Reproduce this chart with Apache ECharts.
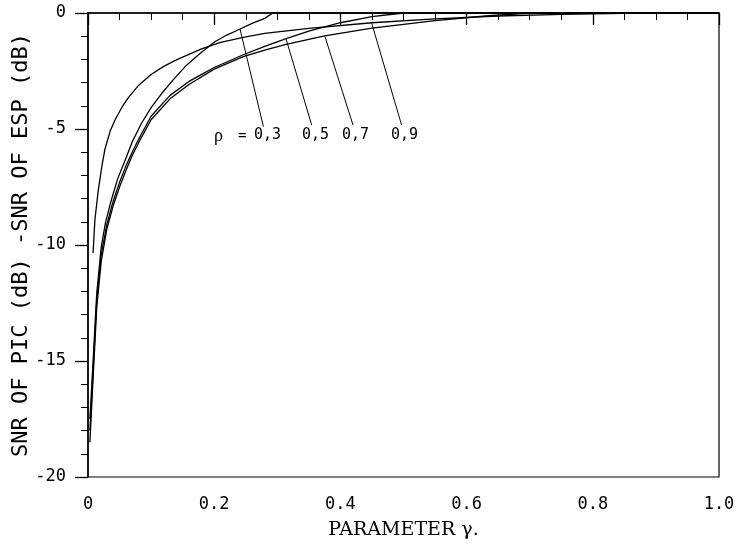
<!DOCTYPE html>
<html>
<head>
<meta charset="utf-8">
<script src="https://cdn.jsdelivr.net/npm/echarts@6/dist/echarts.min.js"></script>
<style>html,body{margin:0;padding:0;background:#fff}#c{width:736px;height:547px}</style>
</head>
<body>
<div id="c"></div>
<script>
// rho = 0.3
const x03 = [0.003,0.0085,0.0138,0.021,0.028,0.037,0.047,0.059,0.071,0.085,0.1,0.117,0.135,0.154,0.177,0.201,0.22,0.241,0.26,0.28,0.293,0.4,0.6,0.8,1.0];
const y03 = [-17.5,-14.8,-12.1,-10.07,-9.0,-8.06,-7.15,-6.34,-5.5,-4.74,-4.08,-3.46,-2.88,-2.31,-1.76,-1.24,-0.95,-0.69,-0.45,-0.23,0,0,0,0,0];
// rho = 0.5
const x05 = [0.003,0.0085,0.0138,0.021,0.03,0.04,0.05,0.06,0.07,0.08,0.1,0.13,0.16,0.178,0.2,0.246,0.28,0.314,0.35,0.4,0.45,0.5,0.7,1.0];
const y05 = [-18.0,-15.2,-12.4,-10.4,-9.1,-8.1,-7.3,-6.6,-6.0,-5.45,-4.45,-3.55,-2.95,-2.68,-2.35,-1.8,-1.44,-1.1,-0.78,-0.42,-0.16,0,0,0];
// rho = 0.7
const x07 = [0.003,0.0085,0.0138,0.021,0.03,0.04,0.05,0.06,0.07,0.08,0.1,0.13,0.16,0.2,0.246,0.28,0.314,0.375,0.45,0.55,0.63,0.7,1.0];
const y07 = [-18.5,-15.5,-12.7,-10.7,-9.3,-8.3,-7.5,-6.8,-6.15,-5.6,-4.6,-3.7,-3.08,-2.42,-1.88,-1.6,-1.35,-0.99,-0.65,-0.33,-0.13,0,0];
// rho = 0.9
const x09 = [0.008,0.011,0.016,0.022,0.027,0.035,0.043,0.054,0.064,0.08,0.1,0.12,0.14,0.16,0.18,0.21,0.25,0.28,0.35,0.45,0.55,0.65,0.75,0.85,0.9,1.0];
const y09 = [-10.35,-8.9,-7.7,-6.6,-5.85,-5.1,-4.6,-4.05,-3.65,-3.12,-2.65,-2.3,-2.02,-1.78,-1.55,-1.27,-1.03,-0.88,-0.66,-0.42,-0.25,-0.13,-0.06,-0.02,0,0];

// annotation arrows: [labelX, labelY, tipX, tipY] in data units
const arrows = [
  [0.278,-4.90,0.241,-0.70],
  [0.3545,-4.83,0.314,-1.13],
  [0.420,-4.83,0.3756,-1.02],
  [0.497,-4.83,0.4496,-0.44]
];
const rhoLabels = ['0,3','0,5','0,7','0,9'];

const pairs = (xs, ys) => xs.map((v,i)=>[v, ys[i]]);
const mono = '"DejaVu Sans Mono", "Liberation Mono", monospace';

const lineSeries = (data) => ({
  type:'line', data, showSymbol:false, smooth:false,
  lineStyle:{color:'#000', width:1.3}, silent:true, animation:false
});

const s1 = lineSeries(pairs(x03,y03));
s1.markLine = {
  silent:true, symbol:['none','arrow'], symbolSize:[0,6], animation:false,
  label:{show:false},
  lineStyle:{color:'#000', width:1, type:'solid'},
  data: arrows.map(a=>[{coord:[a[0],a[1]]},{coord:[a[2],a[3]]}])
};

const chart = echarts.init(document.getElementById('c'), null, {renderer:'canvas'});
chart.setOption({
  backgroundColor:'#fff',
  animation:false,
  grid:{left:88, right:17, top:13, bottom:70, outerBoundsMode:'none', containLabel:false,
    show:true, borderColor:'#000', borderWidth:1.2, backgroundColor:'transparent'},
  xAxis:{
    type:'value', min:0, max:1, interval:0.2,
    name:'PARAMETER \u03b3.', nameLocation:'middle', nameGap:44,
    nameTextStyle:{fontFamily:'"DejaVu Serif", "Liberation Serif", serif', fontSize:19, color:'#000'},
    axisLine:{lineStyle:{color:'#000', width:1.5}},
    axisTick:{show:true, inside:false, length:12, lineStyle:{color:'#000', width:1.3}},
    minorTick:{show:true, splitNumber:4, length:7, lineStyle:{color:'#000', width:1}},
    splitLine:{show:false},
    axisLabel:{margin:19, fontFamily:mono, fontSize:17, color:'#000',
      formatter:v=> v===0 ? '0' : v.toFixed(1)}
  },
  yAxis:{
    type:'value', min:-20, max:0, interval:5,
    name:'SNR OF PIC (dB) -SNR OF ESP (dB)', nameLocation:'middle', nameGap:56,
    nameMoveOverlap:false,
    nameTextStyle:{fontFamily:mono, fontSize:22, color:'#000'},
    axisLine:{lineStyle:{color:'#000', width:1.5}},
    axisTick:{show:true, inside:false, length:13, lineStyle:{color:'#000', width:1.3}},
    minorTick:{show:true, splitNumber:5, length:7, lineStyle:{color:'#000', width:1}},
    splitLine:{show:false},
    axisLabel:{margin:22, fontFamily:mono, fontSize:17, color:'#000'}
  },
  series:[s1, lineSeries(pairs(x05,y05)), lineSeries(pairs(x07,y07)), lineSeries(pairs(x09,y09))],
  graphic:[
    {type:'text', left:214, top:127, style:{text:'\u03c1', font:'18px "Liberation Serif", serif', fill:'#000'}},
    {type:'text', left:238, top:129, style:{text:'=', font:'14px '+mono, fill:'#000'}},
    ...rhoLabels.map((t,i)=>({type:'text', left:[254,302,342,391][i], top:128,
      style:{text:t, font:'15px '+mono, fill:'#000'}}))
  ]
});
</script>
</body>
</html>
